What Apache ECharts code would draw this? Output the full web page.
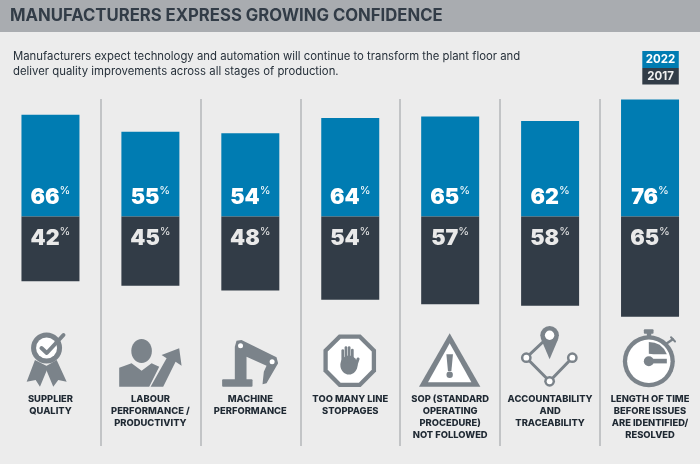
<!DOCTYPE html>
<html>
<head>
<meta charset="utf-8">
<style>html,body{margin:0;padding:0;background:#ececec}#chart{width:700px;height:464px}</style>
<script src="https://cdn.jsdelivr.net/npm/echarts@6/dist/echarts.min.js"></script>
</head>
<body>
<div id="chart"></div>
<script>
const categories = [
  'SUPPLIER\nQUALITY',
  'LABOUR\nPERFORMANCE /\nPRODUCTIVITY',
  'MACHINE\nPERFORMANCE',
  'TOO MANY LINE\nSTOPPAGES',
  'SOP (STANDARD\nOPERATING\nPROCEDURE)\nNOT FOLLOWED',
  'ACCOUNTABILITY\nAND\nTRACEABILITY',
  'LENGTH OF TIME\nBEFORE ISSUES\nARE IDENTIFIED/\nRESOLVED'
];
const values2022 = [66, 55, 54, 64, 65, 62, 76];
const values2017 = [42, 45, 48, 54, 57, 58, 65];

const BLUE = '#007cb2';
const DARK = '#323c47';
const ICON = '#7b838a';
const WHITE = '#ffffff';
const PAPER = '#ececec';
const FONT = 'Inter, "Noto Sans", sans-serif';

const fill = (c) => ({ fill: c, stroke: null });
const poly = (points, color = ICON) => ({ type: 'polygon', shape: { points }, style: fill(color) });
const disc = (cx, cy, r, color = ICON) => ({ type: 'circle', shape: { cx, cy, r }, style: fill(color) });
const oval = (cx, cy, rx, ry, color = ICON) => ({ type: 'ellipse', shape: { cx, cy, rx, ry }, style: fill(color) });
const box = (x, y, width, height, color = ICON, r = 0) => ({ type: 'rect', shape: { x, y, width, height, r }, style: fill(color) });
const wire = (points, lineWidth = 3) => ({
  type: 'polyline', shape: { points },
  style: { fill: null, stroke: ICON, lineWidth, lineCap: 'round', lineJoin: 'round' }
});

function octagon(cx, cy, a) {
  const s = a * 0.4142;
  return [[cx - s, cy - a], [cx + s, cy - a], [cx + a, cy - s], [cx + a, cy + s],
          [cx + s, cy + a], [cx - s, cy + a], [cx - a, cy + s], [cx - a, cy - s]];
}

// One pictogram per column, drawn around the column's own centre (x = 50.5).
const pictograms = [
  // rosette with a tick
  [
    poly([[35, 360], [26.7, 381.7], [35.7, 380], [40, 386.7], [48.3, 366.7]]),
    poly([[56.7, 360], [66.7, 381.7], [58.3, 380], [53.3, 386.7], [45, 366.7]]),
    disc(46.6, 348, 15.5),
    disc(46.6, 348, 10.5, WHITE),
    wire([[41.5, 348], [46.8, 353], [63.5, 335]], 4)
  ],
  // person and rising arrow
  [
    oval(41.7, 351, 10.3, 12),
    poly([[19.3, 367.7], [31.7, 363.3], [41.7, 370.7], [51.7, 363.3], [59.3, 366.7], [49.3, 386.7], [19.3, 386.7]]),
    poly([[50.7, 386.7], [66.7, 358.3], [61.7, 355], [79.3, 348.3], [81.7, 365.7], [75.7, 361.7], [63.3, 386.7]])
  ],
  // robot arm
  [
    box(22.3, 379.3, 30.4, 7.4, ICON, 1),
    poly([[35, 380], [35, 346.7], [36.7, 340.7], [41.7, 340], [76.7, 357.3], [78.3, 363.3], [66.7, 383.3], [62.7, 384.3], [64, 371.7], [66.7, 365.7], [46.7, 356.7], [46.7, 380]]),
    disc(40.7, 345.7, 2.5, WHITE),
    disc(72.3, 361.7, 2.5, WHITE)
  ],
  // stop sign with a raised hand
  [
    poly(octagon(50, 360.7, 26.3)),
    poly(octagon(50, 360.7, 22), WHITE),
    oval(49.2, 365, 8.6, 9.6),
    wire([[43, 362], [43, 350.5]], 2.7),
    wire([[46.2, 362], [46.2, 347.5]], 2.7),
    wire([[49.4, 362], [49.4, 347.5]], 2.7),
    wire([[52.6, 362], [52.6, 350]], 2.7),
    wire([[55.2, 368], [58.3, 359]], 3)
  ],
  // warning triangle
  [
    poly([[50, 333.3], [19.3, 386.7], [80.7, 386.7]]),
    poly([[50, 343.3], [28.3, 382.3], [71.7, 382.3]], WHITE),
    poly([[46.7, 354.3], [53.3, 354.3], [51.7, 371], [48.3, 371]]),
    disc(50, 374.8, 3.2)
  ],
  // map pin on a route
  [
    wire([[43.3, 342], [26.7, 357.7], [50, 381.3], [72.7, 357.7]]),
    poly([[41.6, 339.5], [58.4, 339.5], [50, 359.3]]),
    disc(50, 335.3, 9.3),
    disc(50, 335.3, 4.7, WHITE),
    disc(26.7, 357.7, 5.4), disc(26.7, 357.7, 2.9, WHITE),
    disc(72.7, 357.7, 5.4), disc(72.7, 357.7, 2.9, WHITE),
    disc(50, 381.3, 5.4), disc(50, 381.3, 2.9, WHITE)
  ],
  // stopwatch
  [
    box(44.3, 329.3, 9.7, 4.4, ICON, 1),
    box(47.3, 333, 4.4, 4.5),
    wire([[66.7, 343.7], [73.3, 339.3]], 2.4),
    wire([[71.5, 337.3], [75.5, 341.5]], 2),
    disc(49.3, 361.3, 26),
    disc(49.3, 361.3, 21.7, WHITE),
    poly([[49.3, 342], [55, 342.8], [60, 344.7], [64.5, 349], [67.3, 354.3], [54, 354.3], [49.3, 353.7]]),
    disc(49.3, 361.3, 5),
    box(49.3, 358.8, 18, 4.6)
  ]
];

const percentLabel = (numColor) => ({
  show: true,
  formatter: (p) => `{n|${Math.abs(p.value)}}{p|%}`,
  rich: {
    n: { fontFamily: FONT, fontSize: 21.5, fontWeight: 900, color: numColor, lineHeight: 24 },
    p: { fontFamily: FONT, fontSize: 11, fontWeight: 400, color: numColor, lineHeight: 23, verticalAlign: 'top' }
  }
});

const chart = echarts.init(document.getElementById('chart'), null, { renderer: 'canvas' });
chart.setOption({
  animation: false,
  backgroundColor: PAPER,
  title: [
    {
      text: 'MANUFACTURERS EXPRESS GROWING CONFIDENCE',
      left: 10, top: 6, padding: 0,
      textStyle: { fontFamily: FONT, fontSize: 16.7, fontWeight: 700, color: DARK, lineHeight: 20 }
    },
    {
      text: 'Manufacturers expect technology and automation will continue to transform the plant floor and\ndeliver quality improvements across all stages of production.',
      left: 13, top: 49, padding: 0,
      textStyle: { fontFamily: FONT, fontSize: 11.35, fontWeight: 400, color: '#26303a', lineHeight: 15 }
    }
  ],
  graphic: [
    { type: 'rect', z: -1, shape: { x: 0, y: 0, width: 700, height: 32 }, style: { fill: '#a9acb0' } },
    { type: 'rect', shape: { x: 642.3, y: 51, width: 36.5, height: 17 }, style: { fill: BLUE } },
    { type: 'rect', shape: { x: 642.3, y: 68, width: 36.5, height: 16.4 }, style: { fill: DARK } },
    { type: 'text', x: 660.5, y: 59.8, style: { text: '2022', fill: WHITE, font: `700 11.5px ${FONT}`, align: 'center', verticalAlign: 'middle' } },
    { type: 'text', x: 660.5, y: 76.3, style: { text: '2017', fill: '#f0f0f0', font: `700 11.5px ${FONT}`, align: 'center', verticalAlign: 'middle' } }
  ],
  grid: { left: 0.5, width: 700, top: 99, height: 347, containLabel: false },
  xAxis: {
    type: 'category',
    data: categories,
    position: 'bottom',
    axisLine: { show: false },
    axisTick: { show: false },
    splitLine: {
      show: true, showMinLine: false, showMaxLine: false,
      lineStyle: { color: '#b4b7ba', width: 1.5 }
    },
    axisLabel: {
      interval: 0, margin: -53, verticalAlign: 'top', align: 'center',
      fontFamily: FONT, fontSize: 9.4, fontWeight: 800, color: '#1f2933', lineHeight: 12
    }
  },
  yAxis: { type: 'value', min: -149, max: 76.3, show: false, splitLine: { show: false } },
  series: [
    {
      name: '2022', type: 'bar', barWidth: 58, barGap: '-100%',
      data: values2022,
      itemStyle: { color: BLUE },
      label: { ...percentLabel(WHITE), position: 'insideBottom', distance: 7 }
    },
    {
      name: '2017', type: 'bar', barWidth: 58, barGap: '-100%',
      data: values2017.map((v) => -v),
      itemStyle: { color: DARK },
      label: { ...percentLabel('#e9e9e9'), position: 'insideTop', distance: 10 }
    },
    {
      name: 'pictograms', type: 'custom', silent: true, clip: false,
      data: categories.map((_, i) => [i, 0]),
      encode: { x: 0, y: 1 },
      renderItem: (params, api) => ({
        type: 'group',
        x: api.coord([api.value(0), 0])[0] - 50.5,
        children: pictograms[api.value(0)]
      })
    }
  ]
});
</script>
</body>
</html>
